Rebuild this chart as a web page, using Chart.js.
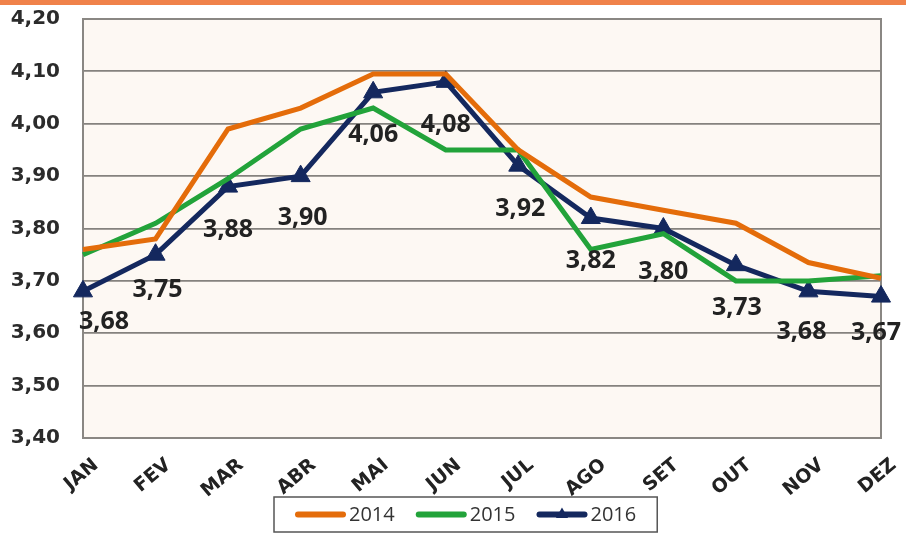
<!DOCTYPE html>
<html>
<head>
<meta charset="utf-8">
<script src="https://cdn.jsdelivr.net/npm/chart.js@4"></script>
<style>
  html, body { margin: 0; padding: 0; background: #fff; }
  canvas { display: block; }
</style>
</head>
<body>
<canvas id="chart" width="906" height="534"></canvas>
<script>
// dados
const meses = ['JAN', 'FEV', 'MAR', 'ABR', 'MAI', 'JUN', 'JUL', 'AGO', 'SET', 'OUT', 'NOV', 'DEZ'];
const serie2014 = [3.76, 3.78, 3.99, 4.03, 4.095, 4.095, 3.95, 3.86, 3.835, 3.81, 3.735, 3.705];
const serie2015 = [3.75, 3.81, 3.895, 3.99, 4.03, 3.95, 3.95, 3.76, 3.79, 3.70, 3.70, 3.71];
const serie2016 = [3.68, 3.75, 3.88, 3.90, 4.06, 4.08, 3.92, 3.82, 3.80, 3.73, 3.68, 3.67];
const eixoMin = 3.40, eixoMax = 4.20, passo = 0.10;

// deslocamento dos rótulos de valor (2016)
const rotuloDx = [21, 2, 0, 2, 0, 0, 2, 0, 0, 1, -7, -5];
const rotuloDy = [31, 35, 43, 42, 43, 43, 43, 43, 43, 43, 41, 36];

const fmt = v => v.toFixed(2).replace('.', ',');

// faixa laranja, fundo e moldura da área do gráfico
const fundoPlugin = {
    id: 'fundo',
    beforeDraw(chart) {
        const ctx = chart.ctx, a = chart.chartArea;
        ctx.save();
        ctx.fillStyle = '#F0824A';
        ctx.fillRect(0, 0, chart.width, 5);
        ctx.fillStyle = '#FDF8F3';
        ctx.fillRect(a.left, a.top, a.right - a.left, a.bottom - a.top);
        ctx.restore();
    },
    beforeDatasetsDraw(chart) {
        const ctx = chart.ctx, a = chart.chartArea;
        ctx.save();
        ctx.strokeStyle = '#8A8783';
        ctx.lineWidth = 2;
        ctx.strokeRect(a.left, a.top, a.right - a.left, a.bottom - a.top);
        ctx.restore();
    }
};

// rótulos de valor da série 2016
const rotulosPlugin = {
    id: 'rotulos',
    afterDatasetsDraw(chart) {
        const ctx = chart.ctx;
        const meta = chart.getDatasetMeta(2);
        ctx.save();
        ctx.font = 'bold 25px "Open Sans"';
        ctx.fillStyle = '#222';
        ctx.textAlign = 'center';
        ctx.textBaseline = 'middle';
        meta.data.forEach((el, i) => {
            ctx.fillText(fmt(serie2016[i]), el.x + rotuloDx[i], el.y + rotuloDy[i]);
        });
        ctx.restore();
    }
};

// legenda com moldura
const legendaPlugin = {
    id: 'legenda',
    afterDraw(chart) {
        const ctx = chart.ctx;
        const ds = chart.data.datasets;
        ctx.save();
        ctx.font = '20px "Open Sans"';
        const linha = 51, gap = 3, entre = 21, pad = 21;
        let total = 0;
        ds.forEach((d, i) => {
            total += linha + gap + ctx.measureText(d.label).width + (i < ds.length - 1 ? entre : 0);
        });
        const cx = 466, top = 497, h = 35, yMid = top + h / 2;
        const boxL = Math.round(cx - total / 2 - pad);
        ctx.fillStyle = '#fff';
        ctx.fillRect(boxL, top, total + pad * 2, h);
        ctx.strokeStyle = '#555';
        ctx.lineWidth = 1.5;
        ctx.strokeRect(boxL, top, total + pad * 2, h);
        let x = boxL + pad;
        ds.forEach(d => {
            ctx.strokeStyle = d.borderColor;
            ctx.lineWidth = 6;
            ctx.lineCap = 'round';
            ctx.beginPath();
            ctx.moveTo(x + 3, yMid);
            ctx.lineTo(x + linha - 3, yMid);
            ctx.stroke();
            if (d.pointRadius > 0) {
                const mx = x + linha / 2, r = 7;
                ctx.fillStyle = d.borderColor;
                ctx.beginPath();
                ctx.moveTo(mx, yMid - r);
                ctx.lineTo(mx + r * 0.87, yMid + r * 0.5);
                ctx.lineTo(mx - r * 0.87, yMid + r * 0.5);
                ctx.closePath();
                ctx.fill();
            }
            x += linha + gap;
            ctx.fillStyle = '#333';
            ctx.textAlign = 'left';
            ctx.textBaseline = 'middle';
            ctx.fillText(d.label, x, yMid + 1);
            x += ctx.measureText(d.label).width + entre;
        });
        ctx.restore();
    }
};

const ctx = document.getElementById('chart').getContext('2d');
const grafico = new Chart(ctx, {
    type: 'line',
    data: {
        labels: meses,
        datasets: [{
            label: '2014',
            data: serie2014,
            borderColor: '#E46C0A',
            backgroundColor: '#E46C0A',
            borderWidth: 5,
            pointRadius: 0,
            tension: 0
        }, {
            label: '2015',
            data: serie2015,
            borderColor: '#22A33A',
            backgroundColor: '#22A33A',
            borderWidth: 5,
            pointRadius: 0,
            tension: 0
        }, {
            label: '2016',
            data: serie2016,
            borderColor: '#14285E',
            backgroundColor: '#14285E',
            borderWidth: 5,
            pointStyle: 'triangle',
            pointRadius: 11,
            pointBorderWidth: 1,
            tension: 0
        }]
    },
    options: {
        responsive: false,
        devicePixelRatio: 1,
        animation: false,
        layout: {
            padding: { top: 19, right: 25, left: 0, bottom: 0 }
        },
        plugins: {
            legend: { display: false },
            tooltip: { enabled: false }
        },
        scales: {
            x: {
                offset: false,
                grid: { display: false },
                border: { display: false },
                ticks: {
                    autoSkip: false,
                    minRotation: 40,
                    maxRotation: 40,
                    labelOffset: 13,
                    padding: 8,
                    color: '#222',
                    font: { family: 'DejaVu Sans', weight: 'bold', size: 19 }
                },
                afterFit(scale) {
                    scale.height = 96;
                    scale.paddingLeft = 0;
                    scale.paddingRight = 0;
                }
            },
            y: {
                min: eixoMin,
                max: eixoMax,
                border: { display: false },
                grid: {
                    color: '#85827E',
                    lineWidth: 1.8,
                    drawTicks: false
                },
                ticks: {
                    stepSize: passo,
                    padding: 23,
                    color: '#2b2b2b',
                    font: { family: 'DejaVu Sans', weight: 'bold', size: 20 },
                    callback: v => fmt(v)
                },
                afterFit(scale) {
                    scale.width = 83;
                    scale.paddingTop = 0;
                    scale.paddingBottom = 0;
                }
            }
        }
    },
    plugins: [fundoPlugin, rotulosPlugin, legendaPlugin]
});
</script>
</body>
</html>
